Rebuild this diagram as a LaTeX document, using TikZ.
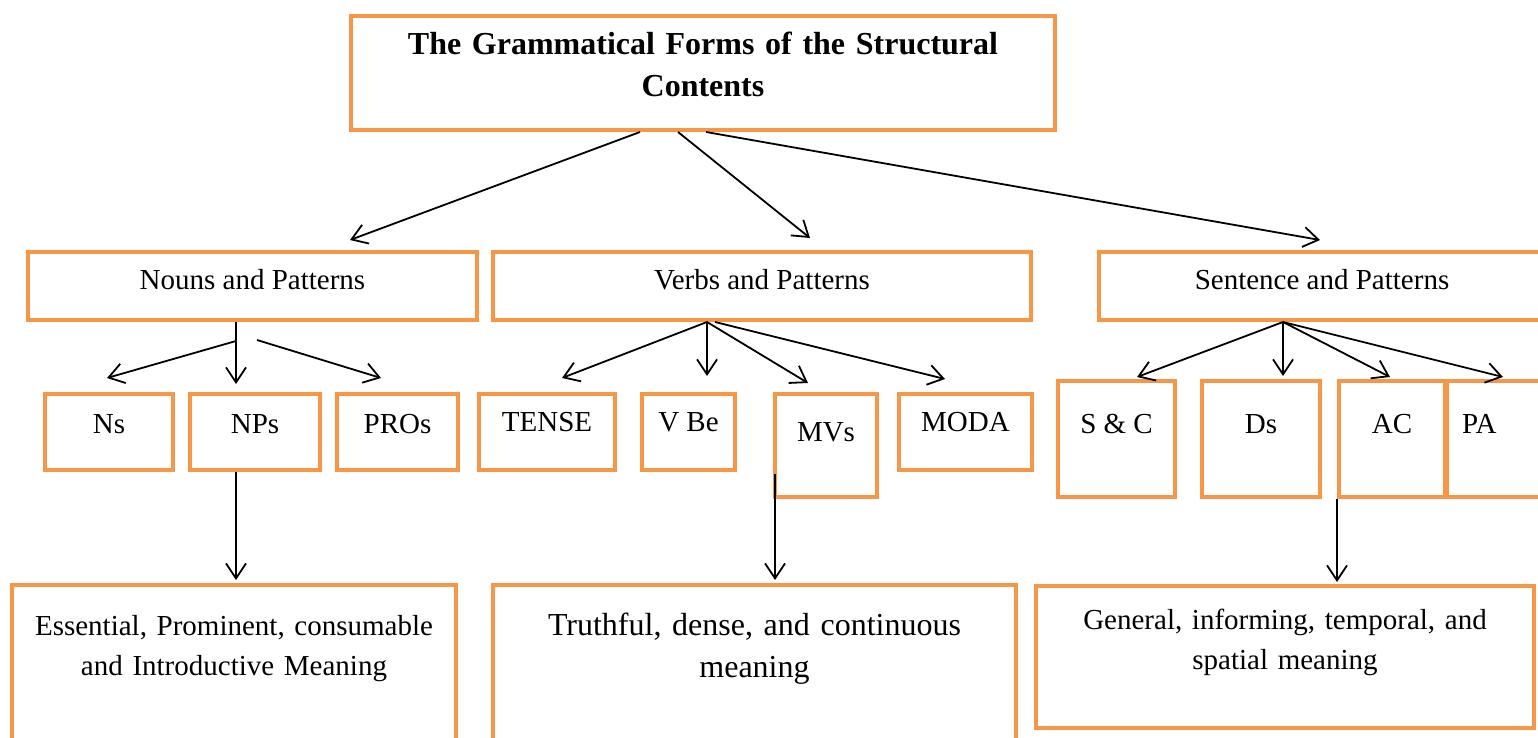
\documentclass[tikz,border=0pt]{standalone}
\usepackage{fontspec}
\setmainfont{Liberation Serif}
\usetikzlibrary{arrows.meta}
\definecolor{boxorange}{HTML}{F79646}
\tikzset{
  box/.style={draw=boxorange,line width=4pt,inner xsep=6pt,inner ysep=0pt,anchor=north,font=\fontsize{29}{40}\selectfont},
  arr/.style={-{Straight Barb[length=15pt,width=20pt]},line width=1.8pt},
}

\begin{document}
\begin{tikzpicture}[x=1pt,y=-1pt]
    \useasboundingbox (0,0) rectangle (1538,738);
    \node[box,text width=692,align=center,text height=39,text depth=75,font=\fontsize{32}{42}\selectfont\bfseries] (title) at (703,14) {The Grammatical Forms of the Structural\\Contents};
    \node[box,minimum width=449,text height=37,text depth=31] (nouns) at (252.5,250) {Nouns and Patterns};
    \node[box,minimum width=538,text height=37,text depth=31] (verbs) at (762,250) {Verbs and Patterns};
    \node[box,minimum width=446,text height=37,text depth=31] (sent) at (1322,250) {Sentence and Patterns};
    \node[box,minimum width=128,text height=39,text depth=37] (ns) at (109,392) {Ns};
    \node[box,minimum width=130,text height=39,text depth=37] (nps) at (255,392) {NPs};
    \node[box,minimum width=121,text height=39,text depth=37] (pros) at (397.5,392) {PROs};
    \node[box,minimum width=136,text height=37,text depth=39] (tense) at (547,392) {TENSE};
    \node[box,minimum width=93,text height=37,text depth=39] (vbe) at (688.5,392) {V Be};
    \node[box,minimum width=102,text height=47,text depth=56] (mvs) at (826,392) {MVs};
    \node[box,minimum width=133,text height=37,text depth=39] (moda) at (965.5,392) {MODA};
    \node[box,minimum width=117,text height=52,text depth=64] (sc) at (1116.5,379) {S \& C};
    \node[box,minimum width=118,text height=52,text depth=64] (ds) at (1261,379) {Ds};
    \node[box,minimum width=106,text height=52,text depth=64] (ac) at (1392,379) {AC};
    \node[box,text width=68,inner xsep=15pt,align=left,text height=52,text depth=64] (pa) at (1496,379) {PA};
    \node[box,text width=432,align=center,text height=50,text depth=180] (essential) at (234,583) {Essential, Prominent, consumable\\and Introductive Meaning};
    \node[box,text width=511,align=center,text height=50,text depth=179,font=\fontsize{32}{42}\selectfont] (truthful) at (754.5,583) {Truthful, dense, and continuous\\meaning};
    \node[box,text width=486,align=center,text height=43,text depth=99] (general) at (1285,584) {General, informing, temporal, and\\spatial meaning};
    \draw[arr] ([xshift=-63]title.south) -- ([xshift=97.5,yshift=10]nouns.north);
    \draw[arr] ([xshift=-25]title.south) -- ([xshift=48,yshift=12]verbs.north);
    \draw[arr] ([xshift=3]title.south) -- ([xshift=-2,yshift=10]sent.north);
    \draw[arr] ([xshift=-16.5]nouns.south) -- ([xshift=-19,yshift=8]nps.north);
    \draw[arr] ([xshift=-16.5,yshift=-19]nouns.south) -- ([xshift=-2,yshift=14]ns.north);
    \draw[arr] ([xshift=4.5,yshift=-18]nouns.south) -- ([xshift=-16.5,yshift=14]pros.north);
    \draw[arr] ([xshift=-19]nps.south) -- ([xshift=2,yshift=3]essential.north);
    \draw[arr] ([xshift=-55]verbs.south) -- ([xshift=15,yshift=14]tense.north);
    \draw[arr] ([xshift=-55]verbs.south) -- ([xshift=18.5,yshift=16]vbe.north);
    \draw[arr] ([xshift=-55]verbs.south) -- ([xshift=-18,yshift=9]mvs.north);
    \draw[arr] ([xshift=-47]verbs.south) -- ([xshift=-20.5,yshift=13]moda.north);
    \draw[arr] ([xshift=-51,yshift=25]mvs.south) -- ([xshift=20.5,yshift=3]truthful.north);
    \draw[arr] ([xshift=-39]sent.south) -- ([xshift=20.5,yshift=2]sc.north);
    \draw[arr] ([xshift=-39]sent.south) -- ([xshift=22,yshift=3]ds.north);
    \draw[arr] ([xshift=-39]sent.south) -- ([xshift=-2,yshift=2]ac.north);
    \draw[arr] ([xshift=-39]sent.south) -- ([xshift=7,yshift=2]pa.north);
    \draw[arr] ([xshift=-55]ac.south) -- ([xshift=52,yshift=2]general.north);
\end{tikzpicture}
\end{document}
